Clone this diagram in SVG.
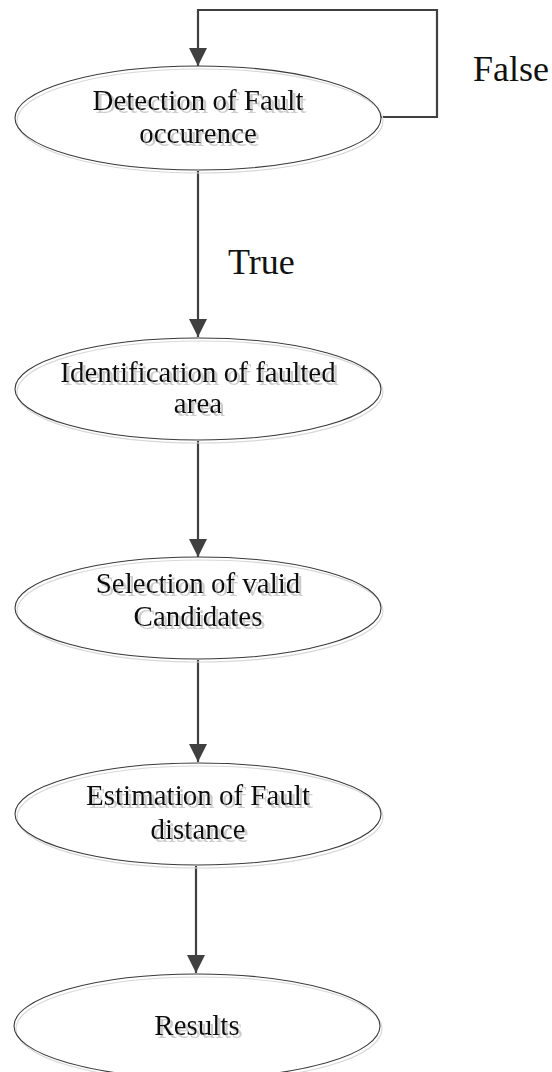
<svg xmlns="http://www.w3.org/2000/svg" width="552" height="1072" viewBox="0 0 552 1072">
  <defs>
    <marker id="arrow" markerUnits="userSpaceOnUse" markerWidth="18" markerHeight="18" refX="18" refY="9" orient="auto">
      <path d="M0,0 L18,9 L0,18 Z" fill="#404040"/>
    </marker>
    <!-- soft grey drop shadow under node captions -->
    <filter id="textShadow" x="-10%" y="-30%" width="120%" height="160%">
      <feOffset in="SourceAlpha" dx="3" dy="3" result="off"/>
      <feFlood flood-color="#cdcdcd" result="grey"/>
      <feComposite in="grey" in2="off" operator="in" result="shadow"/>
      <feMerge>
        <feMergeNode in="shadow"/>
        <feMergeNode in="SourceGraphic"/>
      </feMerge>
    </filter>
    <style>
      .shade { fill: none; stroke: #d8d8d8; stroke-width: 1.2; }
      .node { fill: none; stroke: #3a3a3a; stroke-width: 1.1; }
      .label { font-family: "Liberation Serif", "Times New Roman", serif; font-size: 29px; text-anchor: middle; fill: #111; filter: url(#textShadow); }
      .edge { fill: none; stroke: #404040; stroke-width: 2.2; }
      .edge-label { font-family: "Liberation Serif", "Times New Roman", serif; font-size: 36px; fill: #111; }
    </style>
  </defs>
  <rect width="552" height="1072" fill="#ffffff"/>

  <!-- connectors -->
  <g id="connectors">
    <path class="edge" d="M381,117 H437 V10 H198 V66" marker-end="url(#arrow)"/>
    <path class="edge" d="M198,171 V337" marker-end="url(#arrow)"/>
    <path class="edge" d="M198,441 V557" marker-end="url(#arrow)"/>
    <path class="edge" d="M198,660 V762" marker-end="url(#arrow)"/>
    <path class="edge" d="M196,866 V973" marker-end="url(#arrow)"/>
    <text class="edge-label" x="473" y="81">False</text>
    <text class="edge-label" x="228" y="274">True</text>
  </g>

  <!-- nodes -->
  <g id="detection">
    <ellipse class="shade" cx="200" cy="121" rx="183" ry="52"/>
    <ellipse class="node" cx="198" cy="118" rx="183" ry="52"/>
    <text class="label" x="198" y="110">Detection of Fault</text>
    <text class="label" x="198" y="143">occurence</text>
  </g>

  <g id="identification">
    <ellipse class="shade" cx="200" cy="392" rx="183" ry="51"/>
    <ellipse class="node" cx="198" cy="389" rx="183" ry="51"/>
    <text class="label" x="198" y="382">Identification of faulted</text>
    <text class="label" x="198" y="413">area</text>
  </g>

  <g id="selection">
    <ellipse class="shade" cx="200" cy="611" rx="183" ry="51"/>
    <ellipse class="node" cx="198" cy="608" rx="183" ry="51"/>
    <text class="label" x="198" y="593">Selection of valid</text>
    <text class="label" x="198" y="626">Candidates</text>
  </g>

  <g id="estimation">
    <ellipse class="shade" cx="200" cy="817" rx="183" ry="51"/>
    <ellipse class="node" cx="198" cy="814" rx="183" ry="51"/>
    <text class="label" x="198" y="805">Estimation of Fault</text>
    <text class="label" x="198" y="839">distance</text>
  </g>

  <g id="results">
    <ellipse class="shade" cx="199" cy="1029" rx="183" ry="52"/>
    <ellipse class="node" cx="197" cy="1026" rx="183" ry="52"/>
    <text class="label" x="197" y="1035">Results</text>
  </g>
</svg>
